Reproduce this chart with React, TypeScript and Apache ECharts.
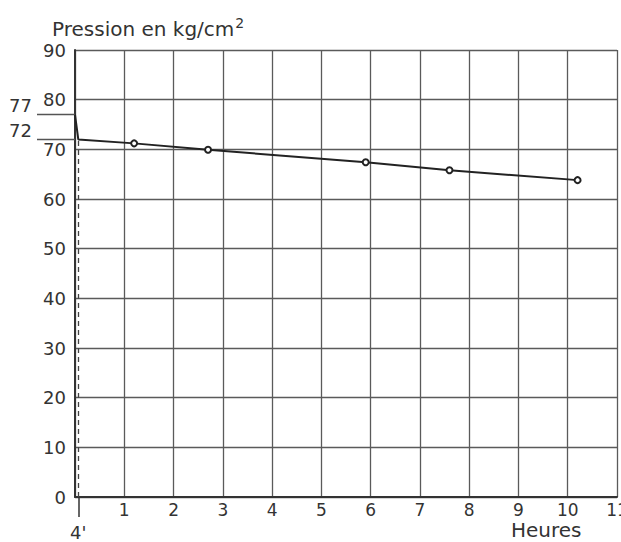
import React, { useEffect, useRef } from "react";
import * as echarts from "echarts";

// Data
const hours = [0, 4 / 60, 1.2, 2.7, 5.9, 7.6, 10.2];
const pressure = [77, 72, 71.2, 69.9, 67.4, 65.8, 63.8];
const measured = [false, false, true, true, true, true, true];
const xTickLabels = [1, 2, 3, 4, 5, 6, 7, 8, 9, 10, 11];
const yMarked = [72, 77];
const startTime = 4 / 60;
const startLabel = "4'";

const FONT = "DejaVu Sans";
const INK = "#333";

export default function App() {
  const ref = useRef<HTMLDivElement>(null);
  useEffect(() => {
    if (!ref.current) return;
    const chart = echarts.init(ref.current, undefined, { renderer: "svg" });
    const data = hours.map((h, i) => ({
      value: [h, pressure[i]],
      symbol: measured[i] ? "emptyCircle" : "none",
    }));
    chart.setOption({
      animation: false,
      backgroundColor: "#fff",
      title: {
        text: "Pression en kg/cm{sup|2}",
        left: 47,
        top: 11,
        textStyle: {
          fontFamily: FONT,
          fontWeight: "normal",
          fontSize: 20,
          color: INK,
          rich: {
            sup: { fontFamily: FONT, fontSize: 14, color: INK, padding: [0, 0, 11, 1] },
          },
        },
      },
      graphic: [
        {
          type: "text",
          left: 511,
          top: 520,
          style: { text: "Heures", fontFamily: FONT, fontSize: 20, lineHeight: 20, fill: INK },
        },
      ],
      grid: { left: 75, right: 4, top: 50, bottom: 45, outerBoundsMode: "none", containLabel: false },
      xAxis: [
        {
          type: "value",
          min: 0,
          max: 11,
          interval: 1,
          axisLine: { show: true, lineStyle: { color: INK, width: 2 } },
          axisTick: { show: false },
          splitLine: { show: true, lineStyle: { color: "#5a5a5a", width: 1.3 } },
          axisLabel: {
            customValues: xTickLabels,
            margin: 5,
            fontFamily: FONT,
            fontSize: 17,
            lineHeight: 15,
            color: INK,
          },
        },
        {
          type: "value",
          position: "bottom",
          min: 0,
          max: 11,
          axisLine: { show: false },
          splitLine: { show: false },
          axisTick: {
            show: true,
            customValues: [startTime],
            length: 20,
            lineStyle: { color: INK, width: 1.5 },
          },
          axisLabel: {
            customValues: [startTime],
            formatter: () => startLabel,
            margin: 26,
            fontFamily: FONT,
            fontSize: 18,
            lineHeight: 18,
            color: INK,
          },
        },
      ],
      yAxis: [
        {
          type: "value",
          min: 0,
          max: 90,
          interval: 10,
          axisLine: { show: true, lineStyle: { color: INK, width: 2 } },
          axisTick: { show: false },
          splitLine: { show: true, lineStyle: { color: "#5a5a5a", width: 1.3 } },
          axisLabel: { margin: 9, fontFamily: FONT, fontSize: 18, color: INK },
        },
        {
          type: "value",
          position: "left",
          min: 0,
          max: 90,
          axisLine: { show: false },
          splitLine: { show: false },
          axisTick: {
            show: true,
            customValues: yMarked,
            length: 38,
            lineStyle: { color: "#555", width: 1.3 },
          },
          axisLabel: {
            customValues: yMarked,
            margin: 43,
            verticalAlign: "bottom",
            fontFamily: FONT,
            fontSize: 18,
            color: INK,
          },
        },
      ],
      series: [
        {
          type: "line",
          data,
          symbolSize: 6,
          lineStyle: { color: "#222", width: 2 },
          itemStyle: { color: "#222", borderWidth: 1.5 },
          markLine: {
            silent: true,
            symbol: "none",
            label: { show: false },
            lineStyle: { color: "#444", width: 1.3, type: [5, 4] },
            data: [[{ coord: [startTime, 0] }, { coord: [startTime, pressure[1]] }]],
          },
        },
      ],
    });
    return () => chart.dispose();
  }, []);
  return (
    <div
      ref={ref}
      style={{ position: "absolute", left: 0, top: 0, width: 621, height: 542, background: "#fff" }}
    />
  );
}
